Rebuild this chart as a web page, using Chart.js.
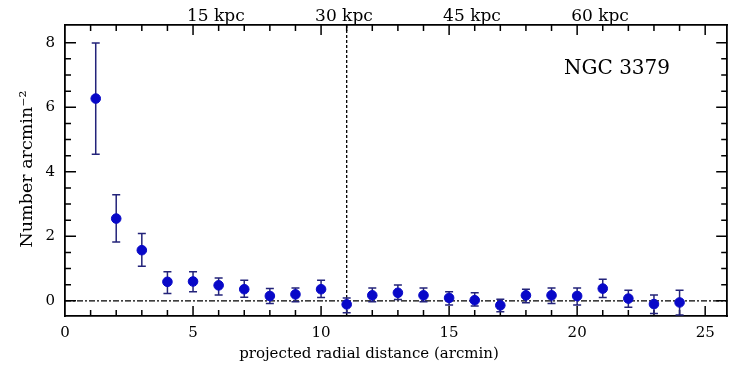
<!DOCTYPE html>
<html>
<head>
<meta charset="utf-8">
<script src="https://cdn.jsdelivr.net/npm/chart.js@4/dist/chart.umd.min.js"></script>
<style>
  html, body { margin: 0; padding: 0; background: #fff; }
  #wrap { width: 733px; height: 366px; }
</style>
</head>
<body>
<div id="wrap"><canvas id="profileChart" width="733" height="366"></canvas></div>
<script>
// radial bins (arcmin) and surface density with error bar bounds
const radius = [1.2, 2, 3, 4, 5, 6, 7, 8, 9, 10, 11, 12, 13, 14, 15, 16, 17, 18, 19, 20, 21, 22, 23, 24];
const density = [6.27, 2.55, 1.57, 0.59, 0.60, 0.48, 0.36, 0.15, 0.20, 0.36, -0.11, 0.17, 0.25, 0.17, 0.09, 0.02, -0.14, 0.17, 0.17, 0.15, 0.38, 0.07, -0.10, -0.05];
const errHigh = [7.99, 3.29, 2.09, 0.90, 0.90, 0.71, 0.64, 0.38, 0.40, 0.64, 0.09, 0.40, 0.49, 0.40, 0.28, 0.25, 0.05, 0.36, 0.40, 0.40, 0.67, 0.33, 0.18, 0.33];
const errLow = [4.54, 1.82, 1.07, 0.23, 0.28, 0.18, 0.11, -0.08, -0.03, 0.10, -0.37, -0.03, 0.04, -0.03, -0.13, -0.16, -0.34, -0.06, -0.08, -0.13, 0.10, -0.20, -0.39, -0.44];

const xTicks = [0, 5, 10, 15, 20, 25];
const yTicks = [0, 2, 4, 6, 8];
const kpcTicks = [5, 10, 15, 20];   // 15, 30, 45, 60 kpc
const kpcPerArcmin = 3;
const markerLine = 11;               // vertical dashed line (arcmin)

const xTitle = 'projected radial distance (arcmin)';
const yTitle = 'Number arcmin⁻²';
const galaxy = 'NGC 3379';

const fontFamily = "'DejaVu Serif', serif";

function setTicks(values) {
  return (scale) => { scale.ticks = values.map(v => ({ value: v })); };
}

// inward ticks on all four sides, reference lines, error bars, labels
const framePlugin = {
  id: 'frame',
  beforeDatasetsDraw(chart) {
    const { ctx, chartArea: a, scales } = chart;
    const x = scales.x, y = scales.y;
    ctx.save();
    ctx.strokeStyle = '#000';
    ctx.lineWidth = 1.5;
    ctx.beginPath();
    for (let v = 1; v <= 25; v++) {
      const len = v % 5 === 0 ? 10 : 6;
      const px = x.getPixelForValue(v);
      ctx.moveTo(px, a.bottom); ctx.lineTo(px, a.bottom - len);
      ctx.moveTo(px, a.top); ctx.lineTo(px, a.top + len);
    }
    for (let v = 0; v <= 8; v += 0.5) {
      const len = v % 2 === 0 ? 11 : 6;
      const py = y.getPixelForValue(v);
      ctx.moveTo(a.left, py); ctx.lineTo(a.left + len, py);
      ctx.moveTo(a.right, py); ctx.lineTo(a.right - len, py);
    }
    ctx.stroke();

    ctx.lineWidth = 1.3;
    ctx.setLineDash([6, 2, 2, 2]);
    ctx.beginPath();
    const y0 = y.getPixelForValue(0);
    ctx.moveTo(a.left, y0); ctx.lineTo(a.right, y0);
    ctx.stroke();

    ctx.setLineDash([3, 2]);
    ctx.beginPath();
    const xm = x.getPixelForValue(markerLine);
    ctx.moveTo(xm, a.top); ctx.lineTo(xm, a.bottom);
    ctx.stroke();

    // error bars
    ctx.setLineDash([]);
    ctx.strokeStyle = '#23237a';
    ctx.lineWidth = 1.5;
    ctx.beginPath();
    radius.forEach((r, i) => {
      const px = x.getPixelForValue(r);
      const top = y.getPixelForValue(errHigh[i]);
      const bot = Math.min(y.getPixelForValue(errLow[i]), a.bottom);
      ctx.moveTo(px, top); ctx.lineTo(px, bot);
      ctx.moveTo(px - 4, top); ctx.lineTo(px + 4, top);
      if (bot < a.bottom) { ctx.moveTo(px - 4, bot); ctx.lineTo(px + 4, bot); }
    });
    ctx.stroke();

    ctx.fillStyle = '#000';
    ctx.font = '20px ' + fontFamily;
    ctx.textAlign = 'left';
    ctx.textBaseline = 'middle';
    ctx.fillText(galaxy, 564, 69);

    ctx.font = '15px ' + fontFamily;
    ctx.textAlign = 'center';
    ctx.fillText(xTitle, 369, 354);

    ctx.save();
    ctx.translate(27, 169);
    ctx.rotate(-Math.PI / 2);
    ctx.font = '17.5px ' + fontFamily;
    ctx.fillText(yTitle, 0, 0);
    ctx.restore();
    ctx.restore();
  }
};

new Chart(document.getElementById('profileChart'), {
  type: 'scatter',
  data: {
    datasets: [{
      data: radius.map((r, i) => ({ x: r, y: density[i] })),
      backgroundColor: '#0808c8',
      borderColor: '#0808c8',
      pointRadius: 4.8,
      pointHoverRadius: 4.8
    }]
  },
  options: {
    responsive: false,
    animation: false,
    events: [],
    layout: { padding: 0 },
    plugins: { legend: { display: false }, tooltip: { enabled: false } },
    scales: {
      x: {
        type: 'linear', position: 'bottom', min: 0, max: 25.86,
        afterBuildTicks: setTicks(xTicks),
        afterFit: (s) => { s.height = 50; },
        grid: { display: false, drawTicks: false },
        border: { display: true, color: '#000', width: 1.8 },
        ticks: { color: '#000', padding: 8, font: { family: fontFamily, size: 15 } }
      },
      xTop: {
        type: 'linear', position: 'top', min: 0, max: 25.86,
        afterBuildTicks: setTicks(kpcTicks),
        afterFit: (s) => { s.height = 25; },
        grid: { display: false, drawTicks: false },
        border: { display: true, color: '#000', width: 1.8 },
        ticks: {
          color: '#000', padding: -2, align: 'start', labelOffset: -6,
          font: { family: fontFamily, size: 17 },
          callback: (v) => (v * kpcPerArcmin) + ' kpc'
        }
      },
      y: {
        type: 'linear', position: 'left', min: -0.47, max: 8.55,
        afterBuildTicks: setTicks(yTicks),
        afterFit: (s) => { s.width = 65; },
        grid: { display: false, drawTicks: false },
        border: { display: true, color: '#000', width: 1.8 },
        ticks: { color: '#000', padding: 10, font: { family: fontFamily, size: 15 } }
      },
      yRight: {
        type: 'linear', position: 'right', min: -0.47, max: 8.55,
        afterFit: (s) => { s.width = 5; },
        grid: { display: false, drawTicks: false },
        border: { display: true, color: '#000', width: 1.8 },
        ticks: { display: false }
      }
    }
  },
  plugins: [framePlugin]
});
</script>
</body>
</html>
